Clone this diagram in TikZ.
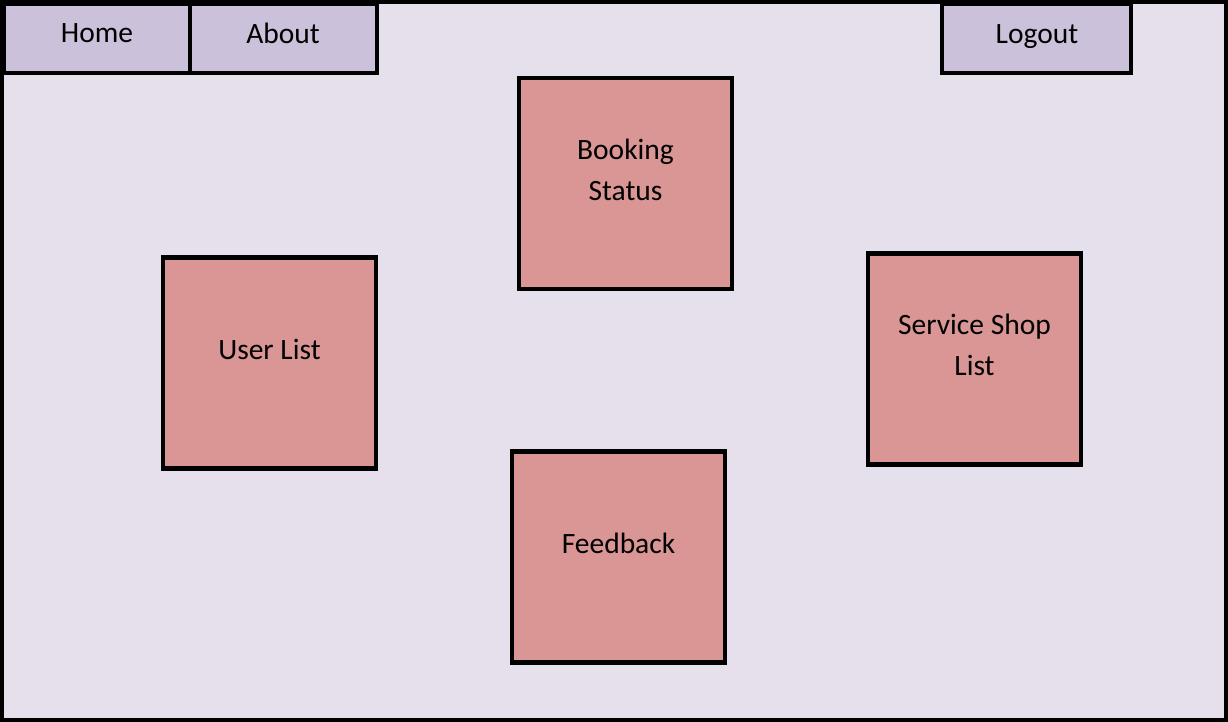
\documentclass[tikz,border=0pt]{standalone}
\usepackage{fontspec}
\setmainfont{Carlito}
\definecolor{bgc}{HTML}{E6E0EC}
\definecolor{navc}{HTML}{CCC1DA}
\definecolor{pinkc}{HTML}{D99694}
\begin{document}
\begin{tikzpicture}[x=1pt,y=-1pt,
  navbox/.style={draw=black,fill=navc,line width=4pt,inner sep=0pt},
  pinkbox/.style={draw=black,fill=pinkc,line width=4.5pt,inner sep=0pt,minimum width=213pt,minimum height=211pt},
  lbl/.style={font=\fontsize{29.5}{41}\selectfont,align=center,inner sep=0pt}]
\useasboundingbox (0,0) rectangle (1228,722);
\draw[fill=bgc,draw=black,line width=4pt] (2,2) rectangle (1226,720);
% nav
\draw[navbox] (4,4) rectangle (190,73);
\draw[navbox] (190,4) rectangle (377,73);
\draw[navbox] (942,4) rectangle (1131,73);
\node[lbl,anchor=base] (home) at (97,43) {Home};
\node[lbl,anchor=base] (about) at (283,44) {About};
\node[lbl,anchor=base] (logout) at (1037,44) {Logout};
% boxes
\node[pinkbox] (book) at (625.5,183.5) {};
\node[lbl] (booklbl) at ([yshift=14pt]book.center) {Booking\\Status};
\node[pinkbox] (user) at (269.5,363) {};
\node[lbl] (userlbl) at ([yshift=14pt]user.center) {User List};
\node[pinkbox] (shop) at (974.5,359) {};
\node[lbl] (shoplbl) at ([yshift=14pt]shop.center) {Service Shop\\List};
\node[pinkbox] (feed) at (618.5,557) {};
\node[lbl] (feedlbl) at ([yshift=14pt]feed.center) {Feedback};
\end{tikzpicture}
\end{document}
